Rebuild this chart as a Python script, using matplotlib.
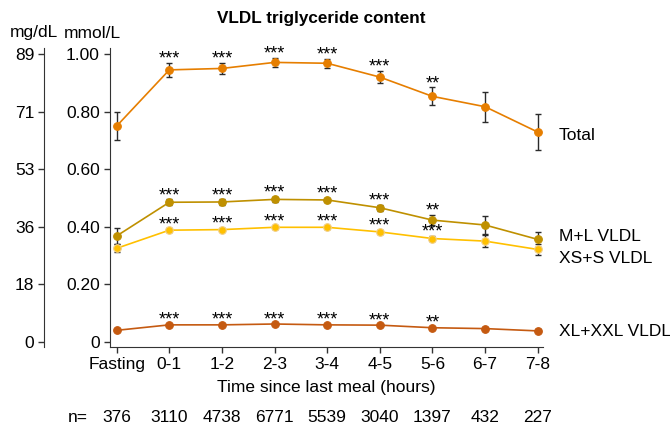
import matplotlib
matplotlib.use("Agg")
import matplotlib.pyplot as plt
import numpy as np

plt.rcParams["font.family"] = ["Liberation Sans", "DejaVu Sans"]

# Time bins and sample sizes
time_labels = ["Fasting", "0-1", "1-2", "2-3", "3-4", "4-5", "5-6", "6-7", "7-8"]
n_counts = [376, 3110, 4738, 6771, 5539, 3040, 1397, 432, 227]

# VLDL triglyceride (mmol/L), mean and error
total_mean = [0.750, 0.945, 0.950, 0.971, 0.968, 0.920, 0.853, 0.817, 0.729]
total_err = [0.050, 0.023, 0.019, 0.015, 0.016, 0.022, 0.031, 0.052, 0.064]
total_sig = ["", "***", "***", "***", "***", "***", "**", "", ""]

ml_mean = [0.368, 0.485, 0.486, 0.495, 0.493, 0.466, 0.423, 0.406, 0.356]
ml_err = [0.029, 0.010, 0.009, 0.008, 0.008, 0.010, 0.017, 0.033, 0.027]
ml_sig = ["", "***", "***", "***", "***", "***", "**", "", ""]

xss_mean = [0.325, 0.388, 0.390, 0.398, 0.398, 0.382, 0.359, 0.350, 0.321]
xss_err = [0.014, 0.006, 0.005, 0.005, 0.005, 0.006, 0.009, 0.020, 0.020]
xss_sig = ["", "***", "***", "***", "***", "***", "***", "", ""]

xl_mean = [0.040, 0.059, 0.059, 0.062, 0.059, 0.058, 0.049, 0.046, 0.038]
xl_err = [0.003, 0.002, 0.002, 0.002, 0.002, 0.002, 0.003, 0.004, 0.005]
xl_sig = ["", "***", "***", "***", "***", "***", "**", "", ""]

mmol_ticks = [0.0, 0.2, 0.4, 0.6, 0.8, 1.0]
mmol_labels = ["0", "0.20", "0.40", "0.60", "0.80", "1.00"]
mgdl_labels = ["0", "18", "36", "53", "71", "89"]

series = [
    ("Total", total_mean, total_err, total_sig, "#E67E00", "#E67E00", 0.718),
    ("M+L VLDL", ml_mean, ml_err, ml_sig, "#BF9000", "#BF9000", 0.365),
    ("XS+S VLDL", xss_mean, xss_err, xss_sig, "#FFC000", "#F2CF86", 0.290),
    ("XL+XXL VLDL", xl_mean, xl_err, xl_sig, "#C55A11", "#C55A11", 0.035),
]

fig = plt.figure(figsize=(6.7, 4.26), dpi=100)
ax = fig.add_axes([0.1637, 0.1854, 0.6467, 0.7019])
x = np.arange(len(time_labels))

for name, mean, err, sig, color, edge, label_y in series:
    ax.errorbar(x, mean, yerr=err, fmt="none", ecolor="#2b2b2b",
                elinewidth=1.0, capsize=2.0, capthick=1.0, zorder=2)
    ax.plot(x, mean, "-o", color=color, lw=1.2, ms=5.5,
            markerfacecolor=color, markeredgecolor=edge, markeredgewidth=0.8,
            zorder=3)
    # significance stars sit just above the upper error cap
    for xi, m, e, s in zip(x, mean, err, sig):
        if s:
            ax.annotate(s, (xi, m + e), xytext=(0, -0.5), textcoords="offset points",
                        ha="center", va="baseline", fontsize=13, zorder=4)
    ax.text(8.4, label_y, name, ha="left", va="center", fontsize=12.5,
            clip_on=False)

ax.set_xlim(-0.133, 8.1)
ax.set_ylim(-0.018, 1.021)
ax.set_xticks(x)
ax.set_xticklabels(time_labels, fontsize=12.5)
ax.set_yticks(mmol_ticks)
ax.set_yticklabels(mmol_labels, fontsize=12.5)
ax.tick_params(length=4, width=1, color="#333333", pad=3)
for side in ("top", "right"):
    ax.spines[side].set_visible(False)
for side in ("left", "bottom"):
    ax.spines[side].set_color("#333333")
ax.set_xlabel("Time since last meal (hours)", fontsize=12.5, labelpad=6)

# secondary mg/dL axis drawn as a separate spine on the left
ax2 = fig.add_axes([44 / 670, 0.1854, 0.001, 0.7019])
ax2.set_ylim(ax.get_ylim())
ax2.set_xticks([])
ax2.set_yticks(mmol_ticks)
ax2.set_yticklabels(mgdl_labels, fontsize=12.5)
ax2.tick_params(length=4, width=1, color="#333333", pad=3)
for side in ("top", "right", "bottom"):
    ax2.spines[side].set_visible(False)
ax2.spines["left"].set_color("#333333")
ax2.patch.set_visible(False)

# unit headers and title
fig.text(34 / 670, 1 - 33 / 426, "mg/dL", ha="center", va="center", fontsize=12.5)
fig.text(92 / 670, 1 - 33 / 426, "mmol/L", ha="center", va="center", fontsize=12.5)
fig.text(321 / 670, 1 - 19 / 426, "VLDL triglyceride content", ha="center",
         va="center", fontsize=12.3, fontweight="bold")

# sample sizes under each time bin
ny = 1 - 418 / 426
fig.text(78 / 670, ny, "n=", ha="center", va="center", fontsize=12.5)
for xi, n in zip(x, n_counts):
    ax.annotate(str(n), (xi, ny), xycoords=("data", "figure fraction"),
                ha="center", va="center", fontsize=12.5, annotation_clip=False)

fig.savefig("out.png", dpi=100)
